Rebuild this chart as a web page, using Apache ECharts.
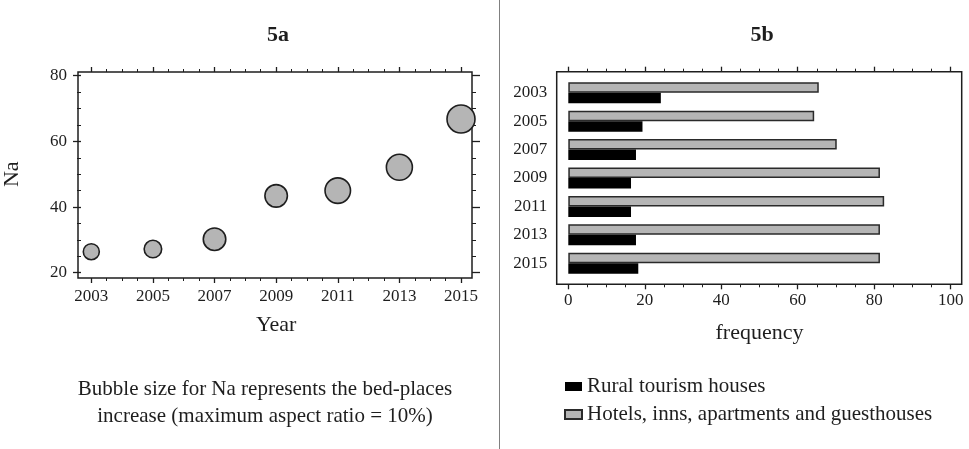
<!DOCTYPE html>
<html>
<head>
<meta charset="utf-8">
<script src="https://cdn.jsdelivr.net/npm/echarts@6/dist/echarts.min.js"></script>
<style>
    html, body { margin: 0; padding: 0; background: #fff; }
    #main { width: 969px; height: 449px; }
</style>
</head>
<body>
<div id="main"></div>
<script>
    // 5a - bubble chart
    var years = [2003, 2005, 2007, 2009, 2011, 2013, 2015];
    var naValues = [26.4, 27.2, 30.2, 43.4, 45.0, 52.1, 66.8];
    var bedPlacesIncrease = [16, 17.5, 22.5, 22.5, 25.5, 26, 28];

    // 5b - horizontal bars
    var barYears = ['2003', '2005', '2007', '2009', '2011', '2013', '2015'];
    var hotels = [65.5, 64.3, 70.2, 81.5, 82.6, 81.5, 81.5];
    var rural = [24.2, 19.4, 17.7, 16.4, 16.4, 17.7, 18.3];

    var serif = '"Liberation Serif", "DejaVu Serif", serif';
    var ink = '#1e1e1e';

    var bubbles = [];
    for (var i = 0; i < years.length; i++) {
        bubbles.push([years[i], naValues[i], bedPlacesIncrease[i]]);
    }

    function frameAxis(gridIndex) {
        return { type: 'value', gridIndex: gridIndex, show: false };
    }

    function tickAxis(opt) {
        var base = {
            type: 'value',
            axisLine: { show: false },
            axisTick: { show: true, inside: false, length: 5, lineStyle: { color: ink, width: 1.3 } },
            minorTick: { show: true, splitNumber: 4, length: 3, lineStyle: { color: ink, width: 1 } },
            splitLine: { show: false },
            minorSplitLine: { show: false },
            axisLabel: { color: ink, fontFamily: serif, fontSize: 17 },
            nameTextStyle: { color: ink, fontFamily: serif, fontSize: 22 }
        };
        for (var k in opt) base[k] = opt[k];
        return base;
    }

    function plain(v) { return String(v); }

    var option = {
        animation: false,
        backgroundColor: '#fff',
        title: [
            {
                text: '5a', left: 273, top: 19, textAlign: 'center',
                textStyle: { fontFamily: serif, fontSize: 22, fontWeight: 'bold', color: ink }
            },
            {
                text: '5b', left: 757, top: 19, textAlign: 'center',
                textStyle: { fontFamily: serif, fontSize: 22, fontWeight: 'bold', color: ink }
            },
            {
                text: 'Bubble size for Na represents the bed-places\nincrease (maximum aspect ratio = 10%)',
                left: 260, top: 371, textAlign: 'center',
                textStyle: { fontFamily: serif, fontSize: 21, fontWeight: 'normal', color: ink, lineHeight: 27 }
            }
        ],
        legend: {
            orient: 'vertical',
            left: 564,
            top: 376,
            padding: 0,
            icon: 'rect',
            itemWidth: 17,
            itemHeight: 9,
            itemGap: 7,
            data: ['Rural tourism houses', 'Hotels, inns, apartments and guesthouses'],
            textStyle: { fontFamily: serif, fontSize: 21, color: ink, lineHeight: 21 }
        },
        graphic: [
            {
                type: 'line',
                shape: { x1: 499.5, y1: 0, x2: 499.5, y2: 449 },
                style: { stroke: '#808080', lineWidth: 1 }
            }
        ],
        grid: [
            // 5a frame
            { left: 78, top: 72, width: 394, height: 206, show: true, borderColor: ink, borderWidth: 1.5 },
            // 5a data area
            { left: 88.3, top: 75.7, width: 372.7, height: 197 },
            // 5b frame
            { left: 556.7, top: 71.7, width: 405, height: 212.6, show: true, borderColor: ink, borderWidth: 1.5 },
            // 5b data area
            { left: 568.3, top: 78.5, width: 382.4, height: 199 }
        ],
        xAxis: [
            frameAxis(0),
            tickAxis({
                gridIndex: 1, position: 'bottom', offset: 5.3,
                min: 2003, max: 2015, interval: 2,
                axisLabel: { color: ink, fontFamily: serif, fontSize: 17, margin: 10, formatter: plain },
                name: 'Year', nameLocation: 'middle', nameGap: 36
            }),
            tickAxis({
                gridIndex: 1, position: 'top', offset: 3.7,
                min: 2003, max: 2015, interval: 2,
                axisLabel: { show: false }
            }),
            frameAxis(2),
            tickAxis({
                gridIndex: 3, position: 'bottom', offset: 6.8,
                min: 0, max: 100, interval: 20,
                axisLabel: { color: ink, fontFamily: serif, fontSize: 17, margin: 8 },
                name: 'frequency', nameLocation: 'middle', nameGap: 38
            }),
            tickAxis({
                gridIndex: 3, position: 'top', offset: 6.8,
                min: 0, max: 100, interval: 20,
                axisLabel: { show: false }
            })
        ],
        yAxis: [
            frameAxis(0),
            tickAxis({
                gridIndex: 1, position: 'left', offset: 10.3,
                min: 20, max: 80, interval: 20,
                axisTick: { show: true, length: 8, lineStyle: { color: ink, width: 1.3 } },
                minorTick: { show: true, splitNumber: 4, length: 4, lineStyle: { color: ink, width: 1 } },
                axisLabel: { color: ink, fontFamily: serif, fontSize: 17, margin: 14 },
                name: 'Na', nameLocation: 'middle', nameGap: 58, nameRotate: 90
            }),
            tickAxis({
                gridIndex: 1, position: 'right', offset: 11,
                min: 20, max: 80, interval: 20,
                axisTick: { show: true, length: 8, lineStyle: { color: ink, width: 1.3 } },
                minorTick: { show: true, splitNumber: 4, length: 4, lineStyle: { color: ink, width: 1 } },
                axisLabel: { show: false }
            }),
            frameAxis(2),
            {
                type: 'category',
                gridIndex: 3,
                inverse: true,
                data: barYears,
                axisLine: { show: false },
                axisTick: { show: false },
                splitLine: { show: false },
                axisLabel: { color: ink, fontFamily: serif, fontSize: 17, margin: 21 }
            }
        ],
        series: [
            {
                name: 'Na',
                type: 'scatter',
                xAxisIndex: 1,
                yAxisIndex: 1,
                data: bubbles,
                symbolSize: function (val) { return val[2]; },
                itemStyle: { color: '#b5b5b5', borderColor: ink, borderWidth: 1.6, opacity: 1 }
            },
            {
                name: 'Hotels, inns, apartments and guesthouses',
                type: 'bar',
                xAxisIndex: 4,
                yAxisIndex: 4,
                data: hotels,
                barWidth: 10.5,
                barGap: '0%',
                itemStyle: { color: '#b5b5b5', borderColor: '#2a2a2a', borderWidth: 1.5 }
            },
            {
                name: 'Rural tourism houses',
                type: 'bar',
                xAxisIndex: 4,
                yAxisIndex: 4,
                data: rural,
                barWidth: 10.5,
                barGap: '0%',
                itemStyle: { color: '#000' }
            }
        ]
    };

    var chart = echarts.init(document.getElementById('main'));
    chart.setOption(option);
</script>
</body>
</html>
